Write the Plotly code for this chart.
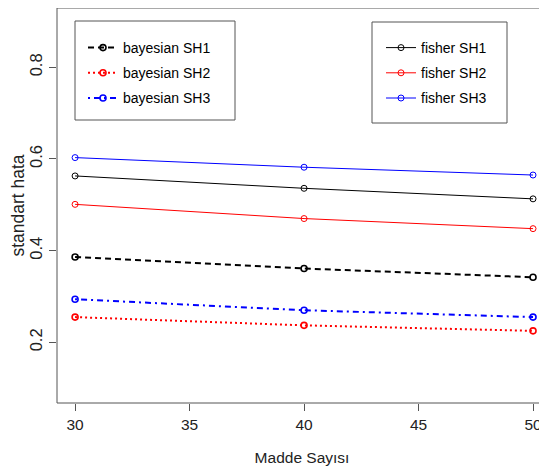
import plotly.graph_objects as go

madde = [30, 40, 50]
bayes_sh1 = [0.386, 0.361, 0.342]
bayes_sh2 = [0.255, 0.237, 0.225]
bayes_sh3 = [0.294, 0.270, 0.255]
fisher_sh1 = [0.563, 0.536, 0.513]
fisher_sh2 = [0.501, 0.470, 0.448]
fisher_sh3 = [0.603, 0.582, 0.565]

x_ticks = [30, 35, 40, 45, 50]
y_ticks = [0.2, 0.4, 0.6, 0.8]

FONT = "Liberation Sans, Arial, sans-serif"

fig = go.Figure()

bayes = [("bayesian SH1", bayes_sh1, "black", "6px,4px"),
         ("bayesian SH2", bayes_sh2, "red", "2px,3px"),
         ("bayesian SH3", bayes_sh3, "blue", "2px,4px,6px,4px")]
fisher = [("fisher SH1", fisher_sh1, "black"),
          ("fisher SH2", fisher_sh2, "red"),
          ("fisher SH3", fisher_sh3, "blue")]

for name, ys, col, dash in bayes:
    fig.add_trace(go.Scatter(
        x=madde, y=ys, name=name, mode="lines+markers", legend="legend",
        legendgroup=name,
        line=dict(color=col, width=2, dash=dash),
        marker=dict(symbol="circle-open", size=6, color=col, line=dict(width=1.6, color=col)),
    ))
for name, ys, col in fisher:
    fig.add_trace(go.Scatter(
        x=madde, y=ys, name=name, mode="lines+markers", legend="legend2",
        legendgroup=name,
        line=dict(color=col, width=1),
        marker=dict(symbol="circle-open", size=6, color=col, line=dict(width=1, color=col)),
    ))

# The page body has an 8px margin, so the figure is offset by (8, 8)
OFF = 8
W, H = 547 - OFF, 468 - OFF
PLOT_L, PLOT_T, PLOT_B = 57, 8, 403  # page coordinates
L, T, B, R = PLOT_L - OFF, PLOT_T - OFF, H - (PLOT_B - OFF), 0
pw, ph = W - L - R, H - T - B

def px(xp):
    return (xp - PLOT_L) / pw

def py(yp):
    return (PLOT_B - yp) / ph

shapes = [
    dict(type="rect", xref="paper", yref="paper", x0=px(75), x1=px(235), y0=py(120), y1=py(21),
         line=dict(color="#555555", width=1)),
    dict(type="rect", xref="paper", yref="paper", x0=px(372), x1=px(507), y0=py(123), y1=py(22),
         line=dict(color="#555555", width=1)),
    # plot box (left, bottom, top)
    dict(type="line", xref="paper", yref="paper", x0=0, x1=0, y0=0, y1=1, line=dict(color="#555555", width=1)),
    dict(type="line", xref="paper", yref="paper", x0=0, x1=1, y0=0, y1=0, line=dict(color="#555555", width=1)),
    dict(type="line", xref="paper", yref="paper", x0=0, x1=1, y0=1, y1=1, line=dict(color="#555555", width=1)),
]

legend_common = dict(bgcolor="rgba(0,0,0,0)", borderwidth=0, tracegroupgap=4,
                     font=dict(family=FONT, size=14, color="black"),
                     xanchor="left", yanchor="top", itemclick=False)

TXT = "#222222"
fig.update_layout(
    width=W, height=H,
    margin=dict(l=L, r=R, t=T, b=B, autoexpand=False),
    paper_bgcolor="white", plot_bgcolor="white",
    font=dict(family=FONT, size=15, color=TXT),
    shapes=shapes,
    legend=dict(x=px(83), y=py(32), **legend_common),
    legend2=dict(x=px(381), y=py(32), **legend_common),
    xaxis=dict(
        range=[29.21, 50.61],
        tickvals=x_ticks, ticks="outside", ticklen=7, tickcolor="#555555",
        showgrid=False, zeroline=False, showline=False, automargin=False,
        tickfont=dict(family=FONT, size=15.5, color=TXT),
        title=dict(text="Madde Sayısı", standoff=20, font=dict(family=FONT, size=15.5, color=TXT)),
    ),
    yaxis=dict(
        range=[0.0676, 0.9294],
        tickvals=y_ticks, tickformat=".1f", ticks="outside", ticklen=7, tickcolor="#555555",
        tickangle=-90,
        showgrid=False, zeroline=False, showline=False, automargin=False,
        tickfont=dict(family=FONT, size=16.5, color=TXT),
        title=dict(text="standart hata", standoff=3, font=dict(family=FONT, size=17.5, color=TXT)),
    ),
)

fig.write_html("out.html")
